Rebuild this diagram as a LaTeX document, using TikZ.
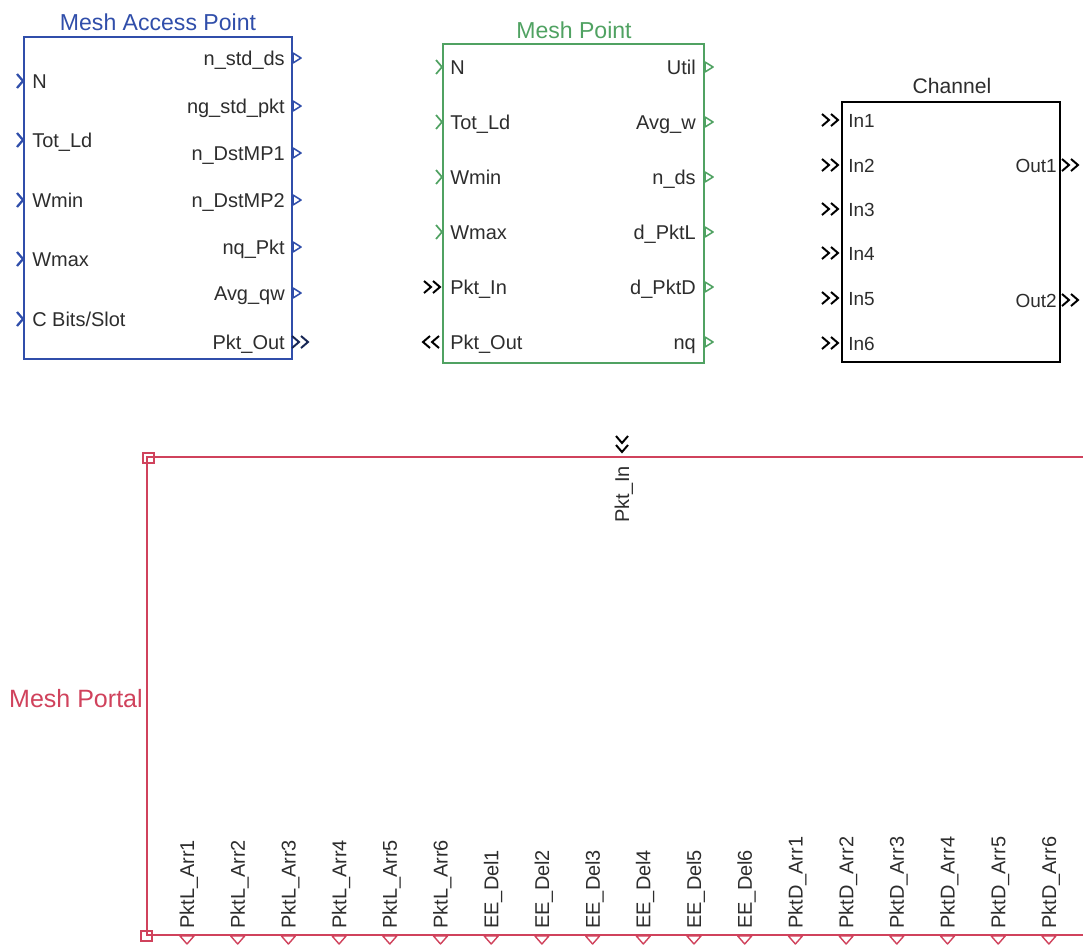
\documentclass[tikz,border=0pt]{standalone}
\usepackage{fontspec}
\setmainfont{Liberation Sans}
\definecolor{mapblue}{RGB}{48,78,170}
\definecolor{mpgreen}{RGB}{80,162,98}
\definecolor{portalred}{RGB}{208,66,92}
\definecolor{lbltext}{RGB}{45,45,45}
\newcommand\portfont{\fontsize{14.2}{17}\selectfont}
\newcommand\chanfont{\fontsize{13.5}{16}\selectfont}
\newcommand\blocktitlefont{\fontsize{16.4}{19}\selectfont}
\newcommand\chantitlefont{\fontsize{15}{18}\selectfont}
\newcommand\portaltitlefont{\fontsize{17.8}{21}\selectfont}
\tikzset{
  blk/.style={line width=1.3pt},
  plbl/.style={inner sep=0pt, font=\portfont, text=lbltext, text height=10.2pt, text depth=0pt},
  ttl/.style={inner sep=0pt, font=\blocktitlefont},
  inport/.pic={\draw (-7,-7) -- (-1,0) -- (-7,7);},
  outport/.pic={\draw[line width=1.1pt, line join=round] (1,-5) -- (9,0) -- (1,5) -- cycle;},
  dblport/.pic={\draw[line width=1.4pt] (-20,-6) -- (-13,0) -- (-20,6) (-11,-6) -- (-4,0) -- (-11,6);},
  botport/.pic={\draw[line width=1pt, line join=round] (-7,1) -- (7,1) -- (0,9) -- cycle;},
}
\begin{document}
\begin{tikzpicture}[x=0.025cm, y=-0.025cm]
\useasboundingbox (0,0) rectangle (1083,948);

% Mesh Access Point
\draw[blk, mapblue] (24,37) rectangle (292,359);
\node[ttl, text=mapblue] (maptitle) at (158,22) {Mesh Access Point};
\foreach \y/\lab in {81/N, 140/Tot\_Ld, 200/Wmin, 259/Wmax, 319/{C Bits/Slot}} {
  \pic[mapblue, line width=1.6pt] at (24,\y) {inport};
  \node[plbl, anchor=west] (mapin\y) at (32,\y) {\lab};
}
\foreach \y/\lab in {58/n\_std\_ds, 106/ng\_std\_pkt, 153/n\_DstMP1, 200/n\_DstMP2, 247/nq\_Pkt, 293/Avg\_qw} {
  \pic[mapblue] at (292,\y) {outport};
  \node[plbl, anchor=east] (mapout\y) at (285,\y) {\lab};
}
\node[plbl, anchor=east] (mappktout) at (285,342) {Pkt\_Out};
\pic[mapblue!50!black] at (312,342) {dblport};

% Mesh Point
\draw[blk, mpgreen] (443,44) rectangle (704,363);
\node[ttl, text=mpgreen] (mptitle) at (574,30) {Mesh Point};
\foreach \y/\lab in {67/N, 122/Tot\_Ld, 177/Wmin, 232/Wmax} {
  \pic[mpgreen, line width=1.2pt] at (443,\y) {inport};
  \node[plbl, anchor=west] (mpin\y) at (450,\y) {\lab};
}
\node[plbl, anchor=west] (mppktin) at (450,287) {Pkt\_In};
\pic[black] at (444,287) {dblport};
\node[plbl, anchor=west] (mppktout) at (450,342) {Pkt\_Out};
\pic[black, xscale=-1] at (419,342) {dblport};
\foreach \y/\lab in {67/Util, 122/Avg\_w, 177/n\_ds, 232/d\_PktL, 287/d\_PktD, 342/nq} {
  \pic[mpgreen] at (704,\y) {outport};
  \node[plbl, anchor=east] (mpout\y) at (696,\y) {\lab};
}

% Channel
\draw[line width=1.1pt, black] (842,102) rectangle (1060,362);
\node[ttl, font=\chantitlefont, text=lbltext] (chtitle) at (952,86) {Channel};
\foreach \y [count=\i] in {120,165,209,253,298,343} {
  \pic[black] at (842,\y) {dblport};
  \node[plbl, font=\chanfont, anchor=west] (chin\i) at (848,\y) {In\i};
}
\foreach \y [count=\i] in {165,300} {
  \pic[black] at (1082,\y) {dblport};
  \node[plbl, font=\chanfont, anchor=east] (chout\i) at (1057,\y) {Out\i};
}

% Mesh Portal
\draw[blk, portalred] (1100,457) -- (147,457) -- (147,935) -- (1100,935);
\draw[portalred, line width=1.2pt] (143,453) rectangle (154,463);
\draw[portalred, line width=1.2pt] (141,931) rectangle (152,941);
\node[inner sep=0pt, font=\portaltitlefont, text=portalred, anchor=east] (portaltitle) at (143,699) {Mesh Portal};
\node[plbl, rotate=90, anchor=east] (ptpktin) at (622,466) {Pkt\_In};
\pic[black, rotate=-90] at (622,456) {dblport};
\foreach \lab [count=\i from 0] in {PktL\_Arr1, PktL\_Arr2, PktL\_Arr3, PktL\_Arr4, PktL\_Arr5, PktL\_Arr6,
    EE\_Del1, EE\_Del2, EE\_Del3, EE\_Del4, EE\_Del5, EE\_Del6,
    PktD\_Arr1, PktD\_Arr2, PktD\_Arr3, PktD\_Arr4, PktD\_Arr5, PktD\_Arr6} {
  \pgfmathsetmacro\px{187+50.7*\i}
  \node[plbl, rotate=90, anchor=west] (ptout\i) at (\px,929) {\lab};
  \pic[portalred] at (\px,935) {botport};
}
\end{tikzpicture}
\end{document}
